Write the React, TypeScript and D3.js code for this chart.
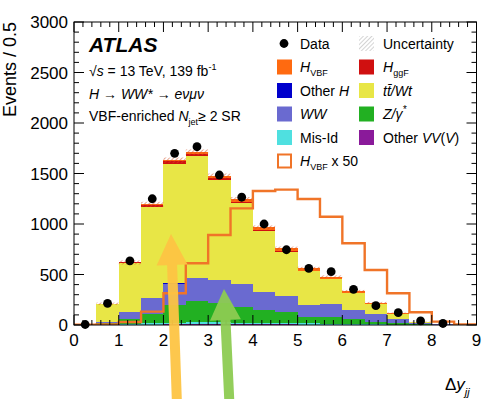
import React from "react";
import * as d3 from "d3";

const W = 497;
const H = 399;

// bin lower edges (width 0.5)
const binLow = [0, 0.5, 1, 1.5, 2, 2.5, 3, 3.5, 4, 4.5, 5, 5.5, 6, 6.5, 7, 7.5, 8, 8.5];
const binWidth = 0.5;

// stacked backgrounds / signals (events per bin)
const otherVV = [0, 1, 2, 4, 5, 6, 6, 6, 5, 5, 4, 3, 3, 2, 1, 1, 0, 0];
const misId = [1, 3, 8, 14, 18, 20, 19, 17, 15, 13, 11, 9, 7, 5, 3, 1, 1, 0];
const zgamma = [0.5, 11, 45, 87, 175, 210, 190, 159, 125, 114, 61, 64, 46, 26, 19, 8, 3, 1];
const wwBkg = [1, 10, 69, 159, 210, 229, 231, 221, 182, 153, 122, 132, 93, 76, 33, 5, 1, 1];
const otherH = [0, 0, 1, 2, 3, 4, 4, 4, 4, 3, 3, 3, 2, 2, 1, 1, 0, 0];
const ttbar = [2, 183, 486, 906, 1188, 1207, 989, 800, 596, 435, 329, 241, 166, 96, 52, 12, 2, 1];
const hggf = [0, 2, 8, 20, 25, 22, 18, 15, 12, 9, 6, 5, 3, 2, 1, 0.5, 0.2, 0];
const hvbf = [0.1, 0.1, 0.6, 2.6, 6.3, 12.2, 17.8, 23.1, 26.5, 26.9, 25, 21.4, 16.2, 10.9, 6.3, 2.5, 0.7, 0.1];
const hvbfx50 = [3, 5, 30, 132, 314, 611, 891, 1155, 1327, 1340, 1248, 1072, 809, 545, 314, 126, 33, 5];
const uncert = [2, 12, 20, 25, 28, 28, 25, 22, 20, 18, 15, 13, 11, 9, 7, 4, 2, 1];
const dataVals = [5, 215, 635, 1250, 1700, 1765, 1485, 1265, 1000, 745, 560, 528, 353, 191, 122, 40, 15, null];

const xTickLabels = [0, 1, 2, 3, 4, 5, 6, 7, 8, 9];
const yTickLabels = [0, 500, 1000, 1500, 2000, 2500, 3000];

const keys = ["otherVV", "misId", "zgamma", "ww", "otherH", "ttbar", "hggf", "hvbf"];
const colors: Record<string, string> = {
  otherVV: "#8a1a9a",
  misId: "#4fe0e0",
  zgamma: "#22b022",
  ww: "#6a6ad0",
  otherH: "#0000cc",
  ttbar: "#e8e646",
  hggf: "#d01010",
  hvbf: "#ff6a10",
};

const FONT = "'Liberation Sans', Arial, Helvetica, sans-serif";

export default function App() {
  const x = d3.scaleLinear().domain([0, 9]).range([74, 476.5]);
  const y = d3.scaleLinear().domain([0, 3000]).range([325, 22]);

  const rows = binLow.map((b, i) => ({
    b,
    otherVV: otherVV[i],
    misId: misId[i],
    zgamma: zgamma[i],
    ww: wwBkg[i],
    otherH: otherH[i],
    ttbar: ttbar[i],
    hggf: hggf[i],
    hvbf: hvbf[i],
  }));
  const stacked = d3.stack<any>().keys(keys)(rows);
  const totals = rows.map((r) => keys.reduce((s, k) => s + (r as any)[k], 0));

  // step line for HVBF x 50
  const stepPts: [number, number][] = [];
  binLow.forEach((b, i) => {
    stepPts.push([b, hvbfx50[i]]);
    stepPts.push([b + binWidth, hvbfx50[i]]);
  });
  const stepLine = d3
    .line<[number, number]>()
    .x((d) => x(d[0]))
    .y((d) => y(d[1]));

  const x0 = x(0), x1 = x(9), yb = y(0), yt = y(3000);
  const xMinor = d3.range(0, 9.0001, 0.2);
  const yMinor = d3.range(0, 3000.1, 100);

  const arrow = (tail: [number, number], tip: [number, number], headLen: number, headHalf: number, shaftHalf: number) => {
    const dx = tip[0] - tail[0];
    const dy = tip[1] - tail[1];
    const len = Math.hypot(dx, dy);
    const ux = dx / len, uy = dy / len;
    const nx = -uy, ny = ux;
    const bx = tip[0] - ux * headLen, by = tip[1] - uy * headLen;
    const pts = [
      [tail[0] + nx * shaftHalf, tail[1] + ny * shaftHalf],
      [bx + nx * shaftHalf, by + ny * shaftHalf],
      [bx + nx * headHalf, by + ny * headHalf],
      [tip[0], tip[1]],
      [bx - nx * headHalf, by - ny * headHalf],
      [bx - nx * shaftHalf, by - ny * shaftHalf],
      [tail[0] - nx * shaftHalf, tail[1] - ny * shaftHalf],
    ];
    return pts.map((p) => p.join(",")).join(" ");
  };

  const legCol1 = 277, legCol2 = 359, legText1 = 300, legText2 = 383;
  const rowY = [43.5, 67, 90.5, 114, 137.5, 161];
  const box = 15;
  const legFs = 14;

  return (
    <svg
      width={W}
      height={H}
      style={{ position: "absolute", left: 0, top: 0, background: "#fff" }}
      fontFamily={FONT}
    >
      <defs>
        <pattern id="hatch" patternUnits="userSpaceOnUse" width="3" height="3" patternTransform="rotate(45)">
          <line x1="0" y1="0" x2="0" y2="3" stroke="#d04a20" strokeWidth="1.2" strokeOpacity="0.85" />
        </pattern>
        <pattern id="hatchLeg" patternUnits="userSpaceOnUse" width="3" height="3" patternTransform="rotate(45)">
          <line x1="0" y1="0" x2="0" y2="3" stroke="#aaa" strokeWidth="1" />
        </pattern>
        <clipPath id="plotClip">
          <rect x={x0} y={yt} width={x1 - x0} height={yb - yt} />
        </clipPath>
      </defs>

      {/* stacked histogram */}
      <g clipPath="url(#plotClip)">
        {stacked.map((layer) => (
          <g key={layer.key} fill={colors[layer.key]}>
            {layer.map((d, i) => {
              const h = y(d[0]) - y(d[1]);
              if (h <= 0) return null;
              return (
                <rect
                  key={i}
                  x={x(binLow[i])}
                  y={y(d[1])}
                  width={x(binLow[i] + binWidth) - x(binLow[i])}
                  height={h}
                  shapeRendering="crispEdges"
                />
              );
            })}
          </g>
        ))}
        {/* uncertainty band */}
        {totals.map((t, i) => (
          <rect
            key={"u" + i}
            x={x(binLow[i])}
            y={y(t + uncert[i])}
            width={x(binLow[i] + binWidth) - x(binLow[i])}
            height={y(t - uncert[i]) - y(t + uncert[i])}
            fill="url(#hatch)"
          />
        ))}
        {/* HVBF x 50 */}
        <path d={stepLine(stepPts) || ""} fill="none" stroke="#f07428" strokeWidth={2.4} />
      </g>

      {/* data points */}
      {dataVals.map((v, i) =>
        v === null ? null : (
          <circle key={"d" + i} cx={x(binLow[i] + binWidth / 2)} cy={y(v)} r={4.4} fill="#000" />
        )
      )}

      {/* frame */}
      <rect x={x0} y={yt} width={x1 - x0} height={yb - yt} fill="none" stroke="#000" strokeWidth={1} />

      {/* x ticks bottom & top */}
      {xMinor.map((v, i) => {
        const major = Math.abs(v - Math.round(v)) < 1e-6;
        const len = major ? 10 : 5;
        return (
          <g key={"xt" + i} stroke="#000" strokeWidth={1}>
            <line x1={x(v)} x2={x(v)} y1={yb} y2={yb - len} />
            <line x1={x(v)} x2={x(v)} y1={yt} y2={yt + len} />
          </g>
        );
      })}
      {/* y ticks left & right */}
      {yMinor.map((v, i) => {
        const major = v % 500 === 0;
        const len = major ? 10 : 5;
        return (
          <g key={"yt" + i} stroke="#000" strokeWidth={1}>
            <line x1={x0} x2={x0 + len} y1={y(v)} y2={y(v)} />
            <line x1={x1} x2={x1 - len} y1={y(v)} y2={y(v)} />
          </g>
        );
      })}

      {/* tick labels */}
      {xTickLabels.map((v) => (
        <text key={"xl" + v} x={x(v)} y={346} fontSize={17} textAnchor="middle" fill="#000">
          {v}
        </text>
      ))}
      {yTickLabels.map((v) => (
        <text key={"yl" + v} x={68} y={y(v) + 6} fontSize={17} textAnchor="end" fill="#000">
          {v}
        </text>
      ))}

      {/* axis titles */}
      <text transform="translate(16,22) rotate(-90)" textAnchor="end" fontSize={18} fill="#000">
        Events / 0.5
      </text>
      <text x={445} y={390} fontSize={17} fill="#000">
        Δ<tspan fontStyle="italic">y</tspan>
        <tspan fontSize={11} fontStyle="italic" dy={6}>jj</tspan>
      </text>

      {/* ATLAS labels */}
      <text x={89} y={52} fontSize={21} fontWeight="bold" fontStyle="italic" fill="#000">
        ATLAS
      </text>
      <text x={89} y={76} fontSize={14} fill="#000">
        √<tspan fontStyle="italic">s</tspan> = 13 TeV, 139 fb
        <tspan fontSize={9} dy={-6}>-1</tspan>
      </text>
      <text x={89} y={98.5} fontSize={14} fontStyle="italic" fill="#000">
        H → WW* → eνμν
      </text>
      <text x={89} y={121} fontSize={14} fill="#000">
        VBF-enriched <tspan fontStyle="italic">N</tspan>
        <tspan fontSize={9} dy={4}>jet</tspan>
        <tspan dy={-4}>≥ 2 SR</tspan>
      </text>

      {/* legend */}
      <g fontSize={legFs} fill="#000">
        <circle cx={legCol1 + 7} cy={rowY[0]} r={4.4} fill="#000" />
        <text x={legText1} y={rowY[0] + 5}>Data</text>
        <rect x={legCol2} y={rowY[0] - 7.5} width={box} height={box} fill="url(#hatchLeg)" />
        <text x={legText2} y={rowY[0] + 5}>Uncertainty</text>

        <rect x={legCol1} y={rowY[1] - 7.5} width={box} height={box} fill={colors.hvbf} />
        <text x={legText1} y={rowY[1] + 5}>
          <tspan fontStyle="italic">H</tspan>
          <tspan fontSize={9} dy={4}>VBF</tspan>
        </text>
        <rect x={legCol2} y={rowY[1] - 7.5} width={box} height={box} fill={colors.hggf} />
        <text x={legText2} y={rowY[1] + 5}>
          <tspan fontStyle="italic">H</tspan>
          <tspan fontSize={9} dy={4}>ggF</tspan>
        </text>

        <rect x={legCol1} y={rowY[2] - 7.5} width={box} height={box} fill={colors.otherH} />
        <text x={legText1} y={rowY[2] + 5}>
          Other <tspan fontStyle="italic">H</tspan>
        </text>
        <rect x={legCol2} y={rowY[2] - 7.5} width={box} height={box} fill={colors.ttbar} />
        <text x={legText2} y={rowY[2] + 5} fontStyle="italic">
          tt̄/Wt
        </text>

        <rect x={legCol1} y={rowY[3] - 7.5} width={box} height={box} fill={colors.ww} />
        <text x={legText1} y={rowY[3] + 5} fontStyle="italic">WW</text>
        <rect x={legCol2} y={rowY[3] - 7.5} width={box} height={box} fill={colors.zgamma} />
        <text x={legText2} y={rowY[3] + 5} fontStyle="italic">
          Z/γ<tspan fontSize={10} dy={-6}>*</tspan>
        </text>

        <rect x={legCol1} y={rowY[4] - 7.5} width={box} height={box} fill={colors.misId} />
        <text x={legText1} y={rowY[4] + 5}>Mis-Id</text>
        <rect x={legCol2} y={rowY[4] - 7.5} width={box} height={box} fill={colors.otherVV} />
        <text x={legText2} y={rowY[4] + 5}>
          Other <tspan fontStyle="italic">VV</tspan>(<tspan fontStyle="italic">V</tspan>)
        </text>

        <rect x={legCol1 + 1} y={rowY[5] - 6.5} width={box - 2} height={box - 2} fill="none" stroke="#f07428" strokeWidth={2} />
        <text x={legText1} y={rowY[5] + 5}>
          <tspan fontStyle="italic">H</tspan>
          <tspan fontSize={9} dy={4}>VBF</tspan>
          <tspan dy={-4}> x 50</tspan>
        </text>
      </g>

      {/* annotation arrows */}
      <polygon points={arrow([177, 405], [171, 234], 31, 15.5, 5)} fill="#fdc443" fillOpacity={0.95} />
      <polygon points={arrow([229.5, 405], [224, 289], 31, 15.5, 5)} fill="#8dcb52" fillOpacity={0.95} />
    </svg>
  );
}
